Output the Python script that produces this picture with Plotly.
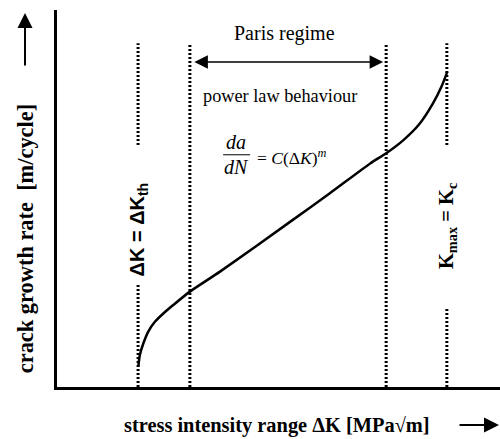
import plotly.graph_objects as go

# Crack growth curve (stress intensity range vs. crack growth rate), arbitrary units 0-100
dk = [18.35, 18.7, 19.5, 20.6, 22.1, 24.0, 26.3, 30.0, 36.8, 52.6, 61.6, 70.7, 74.3, 78.2, 81.9, 84.9, 86.8, 88.1]
rate = [5.4, 8.5, 11.6, 14.7, 17.3, 19.5, 21.8, 25.3, 30.6, 43.8, 51.4, 59.3, 62.0, 65.5, 69.9, 75.3, 79.7, 83.6]

# Dotted reference lines: threshold, Paris regime bounds, critical K
dotted_x = [18.3, 18.3, 30.0, 74.3, 88.0, 88.0]
dotted_y0 = [0, 64.2, 0, 0, 0, 64.2]
dotted_y1 = [27.1, 91.2, 91.2, 91.2, 21.0, 91.2]

paris_lo, paris_hi = 30.0, 74.3
dk_th, k_c = 18.3, 88.0

SERIF = "Liberation Serif"
SANS = "Liberation Sans"

fig = go.Figure()

xs, ys = [], []
for x, a, b in zip(dotted_x, dotted_y0, dotted_y1):
    xs += [x, x, None]
    ys += [a, b, None]
fig.add_trace(go.Scatter(x=xs, y=ys, mode="lines",
                         line=dict(color="black", width=3, dash="2px,2px"),
                         hoverinfo="skip", showlegend=False))

fig.add_trace(go.Scatter(x=dk, y=rate, mode="lines",
                         line=dict(color="black", width=2.5, shape="spline", smoothing=0.6),
                         hoverinfo="skip", showlegend=False))

ann = []
# Paris regime double arrow
ann.append(dict(x=paris_hi, y=86.2, ax=paris_lo, ay=86.2, axref="x", ayref="y",
                xref="x", yref="y", text="", showarrow=True, arrowside="end+start",
                arrowhead=2, startarrowhead=2, arrowsize=1.8, startarrowsize=1.8,
                arrowwidth=1.5, arrowcolor="black", standoff=3, startstandoff=3))
ann.append(dict(x=(paris_lo + paris_hi) / 2 - 0.7, y=93.9, xref="x", yref="y",
                xanchor="center", yanchor="middle",
                text="Paris regime", showarrow=False,
                font=dict(family=SERIF, size=20, color="black")))
ann.append(dict(x=50.3, y=77.2, xref="x", yref="y", xanchor="center", yanchor="middle",
                text="power law behaviour", showarrow=False,
                font=dict(family=SERIF, size=18.3, color="black")))
# equation
ann.append(dict(x=40.5, y=64.9, xref="x", yref="y", xanchor="center", yanchor="middle",
                text="<i>da</i>", showarrow=False,
                font=dict(family=SERIF, size=20, color="black")))
ann.append(dict(x=40.5, y=58.3, xref="x", yref="y", xanchor="center", yanchor="middle",
                text="<i>dN</i>", showarrow=False,
                font=dict(family=SERIF, size=20, color="black")))
ann.append(dict(x=44.7, y=60.9, xref="x", yref="y", xanchor="left", yanchor="middle",
                text="= <i>C</i>(Δ<i>K</i>)<sup><i>m</i></sup>", showarrow=False,
                font=dict(family=SERIF, size=17.5, color="black")))
# vertical labels
ann.append(dict(x=dk_th, y=41.8, xref="x", yref="y", textangle=-90,
                xanchor="center", yanchor="middle",
                text="<b>ΔK = ΔK<sub>th</sub></b>", showarrow=False,
                font=dict(family=SANS, size=20, color="black")))
ann.append(dict(x=k_c, y=42.9, xref="x", yref="y", textangle=-90,
                xanchor="center", yanchor="middle",
                text="<b>K<sub>max</sub> = K<sub>c</sub></b>", showarrow=False,
                font=dict(family=SERIF, size=20.5, color="black")))
# axis titles
ann.append(dict(x=-0.0722, y=0.392, xref="paper", yref="paper", textangle=-90,
                xanchor="center", yanchor="middle",
                text="<b>crack growth rate  [m/cycle]</b>", showarrow=False,
                font=dict(family=SERIF, size=22.4, color="black")))
ann.append(dict(x=0.4955, y=-0.1034, xref="paper", yref="paper",
                xanchor="center", yanchor="middle",
                text="<b>stress intensity range ΔK [MPa√m]</b>", showarrow=False,
                font=dict(family=SERIF, size=20.4, color="black")))
# axis arrows
ann.append(dict(x=-0.0722, y=0.992, xref="paper", yref="paper", ax=0, ay=54,
                text="", showarrow=True, arrowhead=2, arrowsize=1.5, arrowwidth=2,
                arrowcolor="black", standoff=0))
ann.append(dict(x=1.0068, y=-0.1008, xref="paper", yref="paper", ax=-45, ay=0,
                text="", showarrow=True, arrowhead=2, arrowsize=1.5, arrowwidth=2,
                arrowcolor="black", standoff=0))

fig.update_layout(
    width=500, height=439,
    margin=dict(l=57, r=0, t=10, b=52),
    paper_bgcolor="white", plot_bgcolor="white",
    annotations=ann,
    shapes=[dict(type="line", xref="x", yref="y", x0=37.5, x1=43.6, y0=61.6, y1=61.6,
                 line=dict(color="black", width=1))],
    xaxis=dict(range=[0, 100], showline=True, linewidth=3, linecolor="black",
               showgrid=False, zeroline=False, showticklabels=False, ticks=""),
    yaxis=dict(range=[0, 100], showline=True, linewidth=3, linecolor="black",
               showgrid=False, zeroline=False, showticklabels=False, ticks=""),
)

fig.write_html("out.html")
